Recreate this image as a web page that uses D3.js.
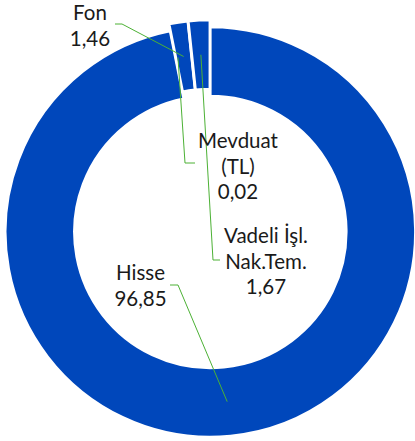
<!DOCTYPE html>
<html>
<head>
<meta charset="utf-8">
<script src="https://cdn.jsdelivr.net/npm/d3@7"></script>
<style>
  body { margin: 0; background: #fff; }
  text { font-family: Lato, "Open Sans", sans-serif; font-size: 20.5px; fill: #1a1a1a; }
</style>
</head>
<body>
<div id="chart"></div>
<script>
// slice data, in drawing order (clockwise from 12 o'clock)
const categories = ['Hisse', 'Fon', 'Mevduat (TL)', 'Vadeli İşl. Nak.Tem.'];
const values = [96.85, 1.46, 0.02, 1.67];
const nameLines = [['Hisse'], ['Fon'], ['Mevduat', '(TL)'], ['Vadeli İşl.', 'Nak.Tem.']];

// label placement: text centre, first baseline, leader elbow and start
const labelPos = [
    { x: 140.5, y: 280, start: [170, 285], elbow: [178, 285] },
    { x: 90, y: 20, start: [115, 24], elbow: [122, 24] },
    { x: 238, y: 148, start: [195, 163], elbow: [185, 163] },
    { x: 266, y: 243, start: [220, 260], elbow: [213, 260] }
];
// Mevduat leader points a bit into the neighbouring slice (degrees)
const anchorOverride = [null, null, 349.3, null];

const width = 415, height = 441;
const cx = 210, cy = 228.5;
const outerR = 205, innerR = 136, explode = 3.5;
const blue = '#0047bb', leaderColor = '#4cb135';

const fmt = v => d3.format('.2f')(v).replace('.', ',');

const svg = d3.select('#chart').append('svg')
    .attr('width', width)
    .attr('height', height);

const pie = d3.pie().sort(null).value(d => d)(values);
const arc = d3.arc().innerRadius(innerR).outerRadius(outerR);

const g = svg.append('g').attr('transform', `translate(${cx},${cy})`);

function offset(d) {
    const a = (d.startAngle + d.endAngle) / 2;
    return [explode * Math.sin(a), -explode * Math.cos(a)];
}

g.selectAll('path')
    .data(pie)
    .join('path')
    .attr('d', arc)
    .attr('transform', d => `translate(${offset(d)})`)
    .attr('fill', blue)
    .attr('stroke', '#fff')
    .attr('stroke-width', 2.5);

// leader lines
const midR = (innerR + outerR) / 2;
pie.forEach((d, i) => {
    const o = offset(d);
    let a = (d.startAngle + d.endAngle) / 2;
    if (anchorOverride[i] !== null) a = anchorOverride[i] * Math.PI / 180;
    const end = [cx + o[0] + midR * Math.sin(a), cy + o[1] - midR * Math.cos(a)];
    const p = labelPos[i];
    svg.append('path')
        .attr('d', d3.line()([p.start, p.elbow, end]))
        .attr('fill', 'none')
        .attr('stroke', leaderColor)
        .attr('stroke-width', 1);
});

// labels
pie.forEach((d, i) => {
    const p = labelPos[i];
    const lines = nameLines[i].concat([fmt(values[i])]);
    const t = svg.append('text')
        .attr('text-anchor', 'middle')
        .attr('x', p.x)
        .attr('y', p.y);
    lines.forEach((l, k) => {
        t.append('tspan')
            .attr('x', p.x)
            .attr('dy', k === 0 ? 0 : 25.5)
            .text(l);
    });
});
</script>
</body>
</html>
